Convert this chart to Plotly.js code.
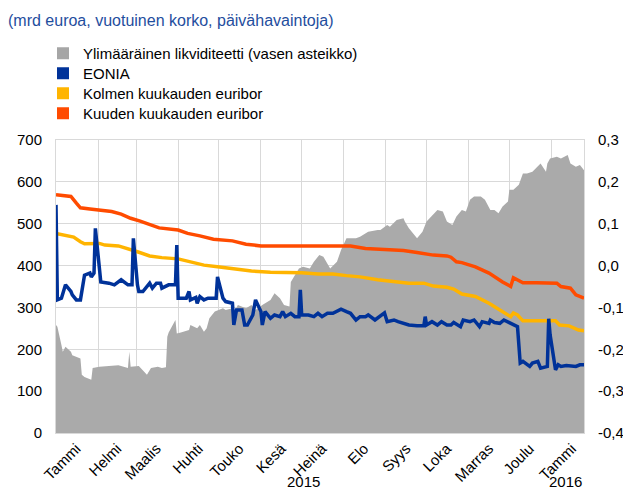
<!DOCTYPE html>
<html><head><meta charset="utf-8">
<script src="https://cdn.plot.ly/plotly-3.0.1.min.js"></script>
<style>html,body{margin:0;padding:0;background:#fff}#chart{width:623px;height:489px}</style>
</head><body><div id="chart"></div>
<script>
// Excess liquidity (bn EUR, left axis)
const liqDates = ['2015-01-01','2015-01-02','2015-01-05','2015-01-06','2015-01-08','2015-01-12','2015-01-13','2015-01-16','2015-01-19','2015-01-20','2015-01-22','2015-01-27','2015-01-28','2015-02-02','2015-02-09','2015-02-16','2015-02-23','2015-02-24','2015-02-25','2015-03-03','2015-03-09','2015-03-11','2015-03-12','2015-03-17','2015-03-20','2015-03-23','2015-03-24','2015-03-25','2015-03-30','2015-03-31','2015-04-03','2015-04-09','2015-04-10','2015-04-15','2015-04-17','2015-04-20','2015-04-22','2015-04-24','2015-04-28','2015-05-04','2015-05-06','2015-05-11','2015-05-12','2015-05-15','2015-05-21','2015-05-25','2015-05-28','2015-06-02','2015-06-08','2015-06-11','2015-06-15','2015-06-18','2015-06-22','2015-06-23','2015-06-29','2015-07-02','2015-07-07','2015-07-10','2015-07-14','2015-07-17','2015-07-20','2015-07-22','2015-07-27','2015-07-30','2015-08-03','2015-08-10','2015-08-13','2015-08-19','2015-08-26','2015-08-28','2015-09-02','2015-09-04','2015-09-09','2015-09-14','2015-09-15','2015-09-18','2015-09-24','2015-09-28','2015-10-01','2015-10-06','2015-10-09','2015-10-13','2015-10-16','2015-10-20','2015-10-23','2015-10-27','2015-10-30','2015-11-02','2015-11-05','2015-11-10','2015-11-13','2015-11-17','2015-11-20','2015-11-23','2015-11-26','2015-11-30','2015-12-01','2015-12-04','2015-12-08','2015-12-11','2015-12-14','2015-12-18','2015-12-22','2015-12-24','2015-12-28','2015-12-29','2015-12-31','2016-01-05','2016-01-08','2016-01-13','2016-01-15','2016-01-19','2016-01-22','2016-01-25'];
const liqValues = [258,254,210,194,206,194,186,182,178,139,134,127,155,158,160,162,155,194,158,160,139,150,155,158,155,157,230,240,270,238,240,246,258,250,258,242,250,274,290,298,294,298,286,306,298,306,294,306,318,334,322,306,302,361,393,397,393,409,425,421,405,393,409,437,465,465,469,481,485,485,497,493,509,513,505,489,465,481,505,521,533,529,505,497,517,533,529,557,565,565,557,533,533,525,541,553,581,581,593,620,620,624,636,644,624,644,656,660,656,664,644,636,640,628];

// EONIA (%, right axis)
const eoniaDates = ['2015-01-01','2015-01-02','2015-01-05','2015-01-08','2015-01-12','2015-01-13','2015-01-16','2015-01-19','2015-01-22','2015-01-26','2015-01-27','2015-01-29','2015-01-30','2015-02-02','2015-02-03','2015-02-09','2015-02-13','2015-02-18','2015-02-23','2015-02-26','2015-02-27','2015-03-02','2015-03-03','2015-03-06','2015-03-11','2015-03-13','2015-03-16','2015-03-19','2015-03-20','2015-03-25','2015-03-30','2015-03-31','2015-04-01','2015-04-07','2015-04-09','2015-04-10','2015-04-14','2015-04-15','2015-04-17','2015-04-20','2015-04-23','2015-04-29','2015-04-30','2015-05-04','2015-05-06','2015-05-11','2015-05-12','2015-05-14','2015-05-18','2015-05-20','2015-05-22','2015-05-26','2015-05-28','2015-06-01','2015-06-02','2015-06-04','2015-06-08','2015-06-11','2015-06-15','2015-06-17','2015-06-19','2015-06-23','2015-06-26','2015-06-29','2015-06-30','2015-07-01','2015-07-06','2015-07-10','2015-07-13','2015-07-16','2015-07-20','2015-07-24','2015-07-30','2015-08-03','2015-08-06','2015-08-10','2015-08-13','2015-08-17','2015-08-19','2015-08-24','2015-08-27','2015-08-31','2015-09-02','2015-09-07','2015-09-10','2015-09-14','2015-09-18','2015-09-24','2015-09-29','2015-09-30','2015-10-01','2015-10-05','2015-10-09','2015-10-12','2015-10-16','2015-10-19','2015-10-21','2015-10-26','2015-10-28','2015-11-02','2015-11-05','2015-11-09','2015-11-11','2015-11-16','2015-11-17','2015-11-20','2015-11-24','2015-11-27','2015-12-02','2015-12-04','2015-12-07','2015-12-09','2015-12-11','2015-12-16','2015-12-18','2015-12-22','2015-12-24','2015-12-29','2015-12-30','2015-12-31','2016-01-04','2016-01-06','2016-01-08','2016-01-12','2016-01-14','2016-01-19','2016-01-22','2016-01-25'];
const eoniaValues = [0.145,-0.082,-0.078,-0.046,-0.062,-0.070,-0.082,-0.082,-0.023,-0.018,-0.027,-0.018,0.089,-0.023,-0.039,-0.042,-0.046,-0.034,-0.046,-0.046,0.065,-0.046,-0.062,-0.062,-0.042,-0.054,-0.042,-0.042,-0.054,-0.046,-0.046,0.049,-0.078,-0.078,-0.062,-0.082,-0.076,-0.090,-0.074,-0.082,-0.078,-0.078,-0.027,-0.078,-0.086,-0.090,-0.142,-0.106,-0.106,-0.142,-0.142,-0.118,-0.082,-0.110,-0.142,-0.110,-0.126,-0.118,-0.122,-0.110,-0.122,-0.114,-0.122,-0.122,-0.058,-0.118,-0.118,-0.122,-0.114,-0.122,-0.114,-0.114,-0.104,-0.110,-0.114,-0.130,-0.122,-0.122,-0.118,-0.130,-0.122,-0.113,-0.134,-0.130,-0.134,-0.138,-0.142,-0.144,-0.144,-0.122,-0.142,-0.134,-0.142,-0.134,-0.142,-0.142,-0.136,-0.146,-0.130,-0.134,-0.130,-0.146,-0.134,-0.138,-0.130,-0.136,-0.138,-0.130,-0.138,-0.142,-0.146,-0.233,-0.229,-0.241,-0.233,-0.229,-0.245,-0.241,-0.127,-0.165,-0.249,-0.237,-0.241,-0.239,-0.239,-0.241,-0.237,-0.237];

// 3-month Euribor (%, right axis)
const e3mDates = ['2015-01-01','2015-01-08','2015-01-14','2015-01-19','2015-01-22','2015-02-02','2015-02-06','2015-02-16','2015-02-23','2015-03-02','2015-03-11','2015-03-20','2015-04-01','2015-04-08','2015-04-10','2015-04-20','2015-04-30','2015-05-12','2015-05-25','2015-06-08','2015-06-18','2015-07-01','2015-07-13','2015-07-24','2015-08-03','2015-08-13','2015-08-26','2015-09-07','2015-09-18','2015-09-29','2015-10-06','2015-10-16','2015-10-21','2015-10-27','2015-11-06','2015-11-16','2015-11-26','2015-12-02','2015-12-04','2015-12-07','2015-12-11','2015-12-21','2016-01-04','2016-01-07','2016-01-14','2016-01-21','2016-01-25'];
const e3mValues = [0.077,0.071,0.068,0.057,0.052,0.053,0.049,0.047,0.041,0.033,0.023,0.019,0.016,0.011,0.008,0.001,-0.003,-0.008,-0.013,-0.016,-0.016,-0.017,-0.020,-0.020,-0.024,-0.027,-0.034,-0.039,-0.042,-0.042,-0.049,-0.052,-0.056,-0.068,-0.074,-0.090,-0.110,-0.122,-0.113,-0.118,-0.132,-0.132,-0.132,-0.142,-0.144,-0.154,-0.156];

// 6-month Euribor (%, right axis)
const e6mDates = ['2015-01-01','2015-01-12','2015-01-16','2015-01-19','2015-01-26','2015-02-02','2015-02-11','2015-02-18','2015-02-25','2015-03-04','2015-03-11','2015-03-18','2015-04-01','2015-04-08','2015-04-17','2015-04-27','2015-05-11','2015-05-21','2015-06-01','2015-06-18','2015-07-13','2015-08-06','2015-08-17','2015-08-31','2015-09-14','2015-09-24','2015-10-06','2015-10-16','2015-10-19','2015-10-23','2015-10-27','2015-11-06','2015-11-16','2015-11-26','2015-12-02','2015-12-04','2015-12-11','2015-12-21','2016-01-05','2016-01-08','2016-01-15','2016-01-19','2016-01-25'];
const e6mValues = [0.169,0.165,0.149,0.138,0.135,0.133,0.129,0.123,0.113,0.106,0.097,0.090,0.085,0.077,0.071,0.063,0.059,0.051,0.047,0.047,0.047,0.047,0.041,0.039,0.036,0.031,0.025,0.023,0.020,0.009,0.007,-0.003,-0.018,-0.039,-0.050,-0.029,-0.041,-0.041,-0.042,-0.050,-0.054,-0.070,-0.078];

const monthLabels = ['Tammi','Helmi','Maalis','Huhti','Touko','Kesä','Heinä','Elo','Syys','Loka','Marras','Joulu','Tammi'];
const labelDates = ['2015-01-16','2015-02-15','2015-03-16','2015-04-16','2015-05-16','2015-06-16','2015-07-16','2015-08-16','2015-09-16','2015-10-16','2015-11-16','2015-12-16','2016-01-16'];
const monthStarts = ['2015-01-01','2015-02-01','2015-03-01','2015-04-01','2015-05-01','2015-06-01','2015-07-01','2015-08-01','2015-09-01','2015-10-01','2015-11-01','2015-12-01','2016-01-01'];
const leftTicks = [0,100,200,300,400,500,600,700];
const rightTicks = [-0.4,-0.3,-0.2,-0.1,0,0.1,0.2,0.3];
const rightTickText = ['-0,4','-0,3','-0,2','-0,1','0,0','0,1','0,2','0,3'];

const names = ['Ylimääräinen likviditeetti (vasen asteikko)','EONIA','Kolmen kuukauden euribor','Kuuden kuukauden euribor'];
const colors = ['#a6a6a6','#003299','#ffb400','#ff4b00'];

const FONT = 'Liberation Sans, Arial, sans-serif';

const traces = [
  {type:'scatter', mode:'lines', x:liqDates, y:liqValues, fill:'tozeroy', fillcolor:'#aaaaaa', line:{width:0, color:'#aaaaaa'}, showlegend:false, xaxis:'x', yaxis:'y', hoverinfo:'skip'},
  {type:'scatter', mode:'lines', x:e6mDates, y:e6mValues, line:{width:3.5, color:colors[3]}, showlegend:false, yaxis:'y2'},
  {type:'scatter', mode:'lines', x:e3mDates, y:e3mValues, line:{width:3.5, color:colors[2]}, showlegend:false, yaxis:'y2'},
  {type:'scatter', mode:'lines', x:eoniaDates, y:eoniaValues, line:{width:3.5, color:colors[1]}, showlegend:false, yaxis:'y2'}
];
const legendIds = ['legend','legend2','legend3','legend4'];
names.forEach((n,i)=>{
  traces.push({type:'bar', x:[null], y:[null], name:n, marker:{color:colors[i]}, showlegend:true, legend:legendIds[i], yaxis:'y'});
});

const layout = {
  width:623, height:489,
  margin:{l:56, r:39, t:140, b:56, autoexpand:false},
  paper_bgcolor:'#fff', plot_bgcolor:'#fff',
  font:{family:FONT, size:15, color:'#000'},
  separators:', ',
  title:{text:'(mrd euroa, vuotuinen korko, päivähavaintoja)', xref:'container', yref:'container', x:8/623, xanchor:'left', y:1-20/489, yanchor:'middle', automargin:false, font:{family:FONT, size:16, color:'#1f4e9e'}},
  showlegend:true,
  xaxis:{type:'date', range:['2015-01-01','2016-01-25'], tickmode:'array', tickvals:labelDates, ticktext:monthLabels, tickangle:-45, showgrid:false, zeroline:false, ticks:'', showline:true, linecolor:'#d9d9d9', mirror:true, tickfont:{size:15, color:'#000'}, automargin:false,
    minor:{tickmode:'array', tickvals:monthStarts, showgrid:true, gridcolor:'#d9d9d9', gridwidth:1, ticks:''}, fixedrange:true},
  yaxis:{range:[0,700], tickmode:'array', tickvals:leftTicks, showgrid:true, gridcolor:'#d9d9d9', zeroline:false, ticks:'', showline:true, linecolor:'#d9d9d9', ticklabelstandoff:10, automargin:false, tickfont:{size:15, color:'#000'}, fixedrange:true},
  yaxis2:{range:[-0.4,0.3], overlaying:'y', side:'right', tickmode:'array', tickvals:rightTicks, ticktext:rightTickText, showgrid:false, zeroline:false, ticks:'', showline:true, linecolor:'#d9d9d9', ticklabelstandoff:10, automargin:false, tickfont:{size:15, color:'#000'}, fixedrange:true},
  annotations:[
    {text:'2015', xref:'x', yref:'paper', x:'2015-07-02', y:(433-481)/293, xanchor:'center', yanchor:'middle', showarrow:false, font:{family:FONT, size:15, color:'#000'}},
    {text:'2016', xref:'paper', yref:'paper', x:1, y:(433-481)/293, xanchor:'right', yanchor:'middle', showarrow:false, font:{family:FONT, size:15, color:'#000'}}
  ]
};
const legendCenters = [51.5, 71.5, 91.5, 111.5];
legendIds.forEach((id,i)=>{
  layout[id] = {xref:'container', yref:'container', x:43/623, y:1-(legendCenters[i]-14.5)/489, xanchor:'left', yanchor:'top', font:{family:FONT, size:15, color:'#000'}, bgcolor:'rgba(0,0,0,0)'};
});
Plotly.newPlot('chart', traces, layout, {displayModeBar:false, staticPlot:true});
</script>
</body></html>
